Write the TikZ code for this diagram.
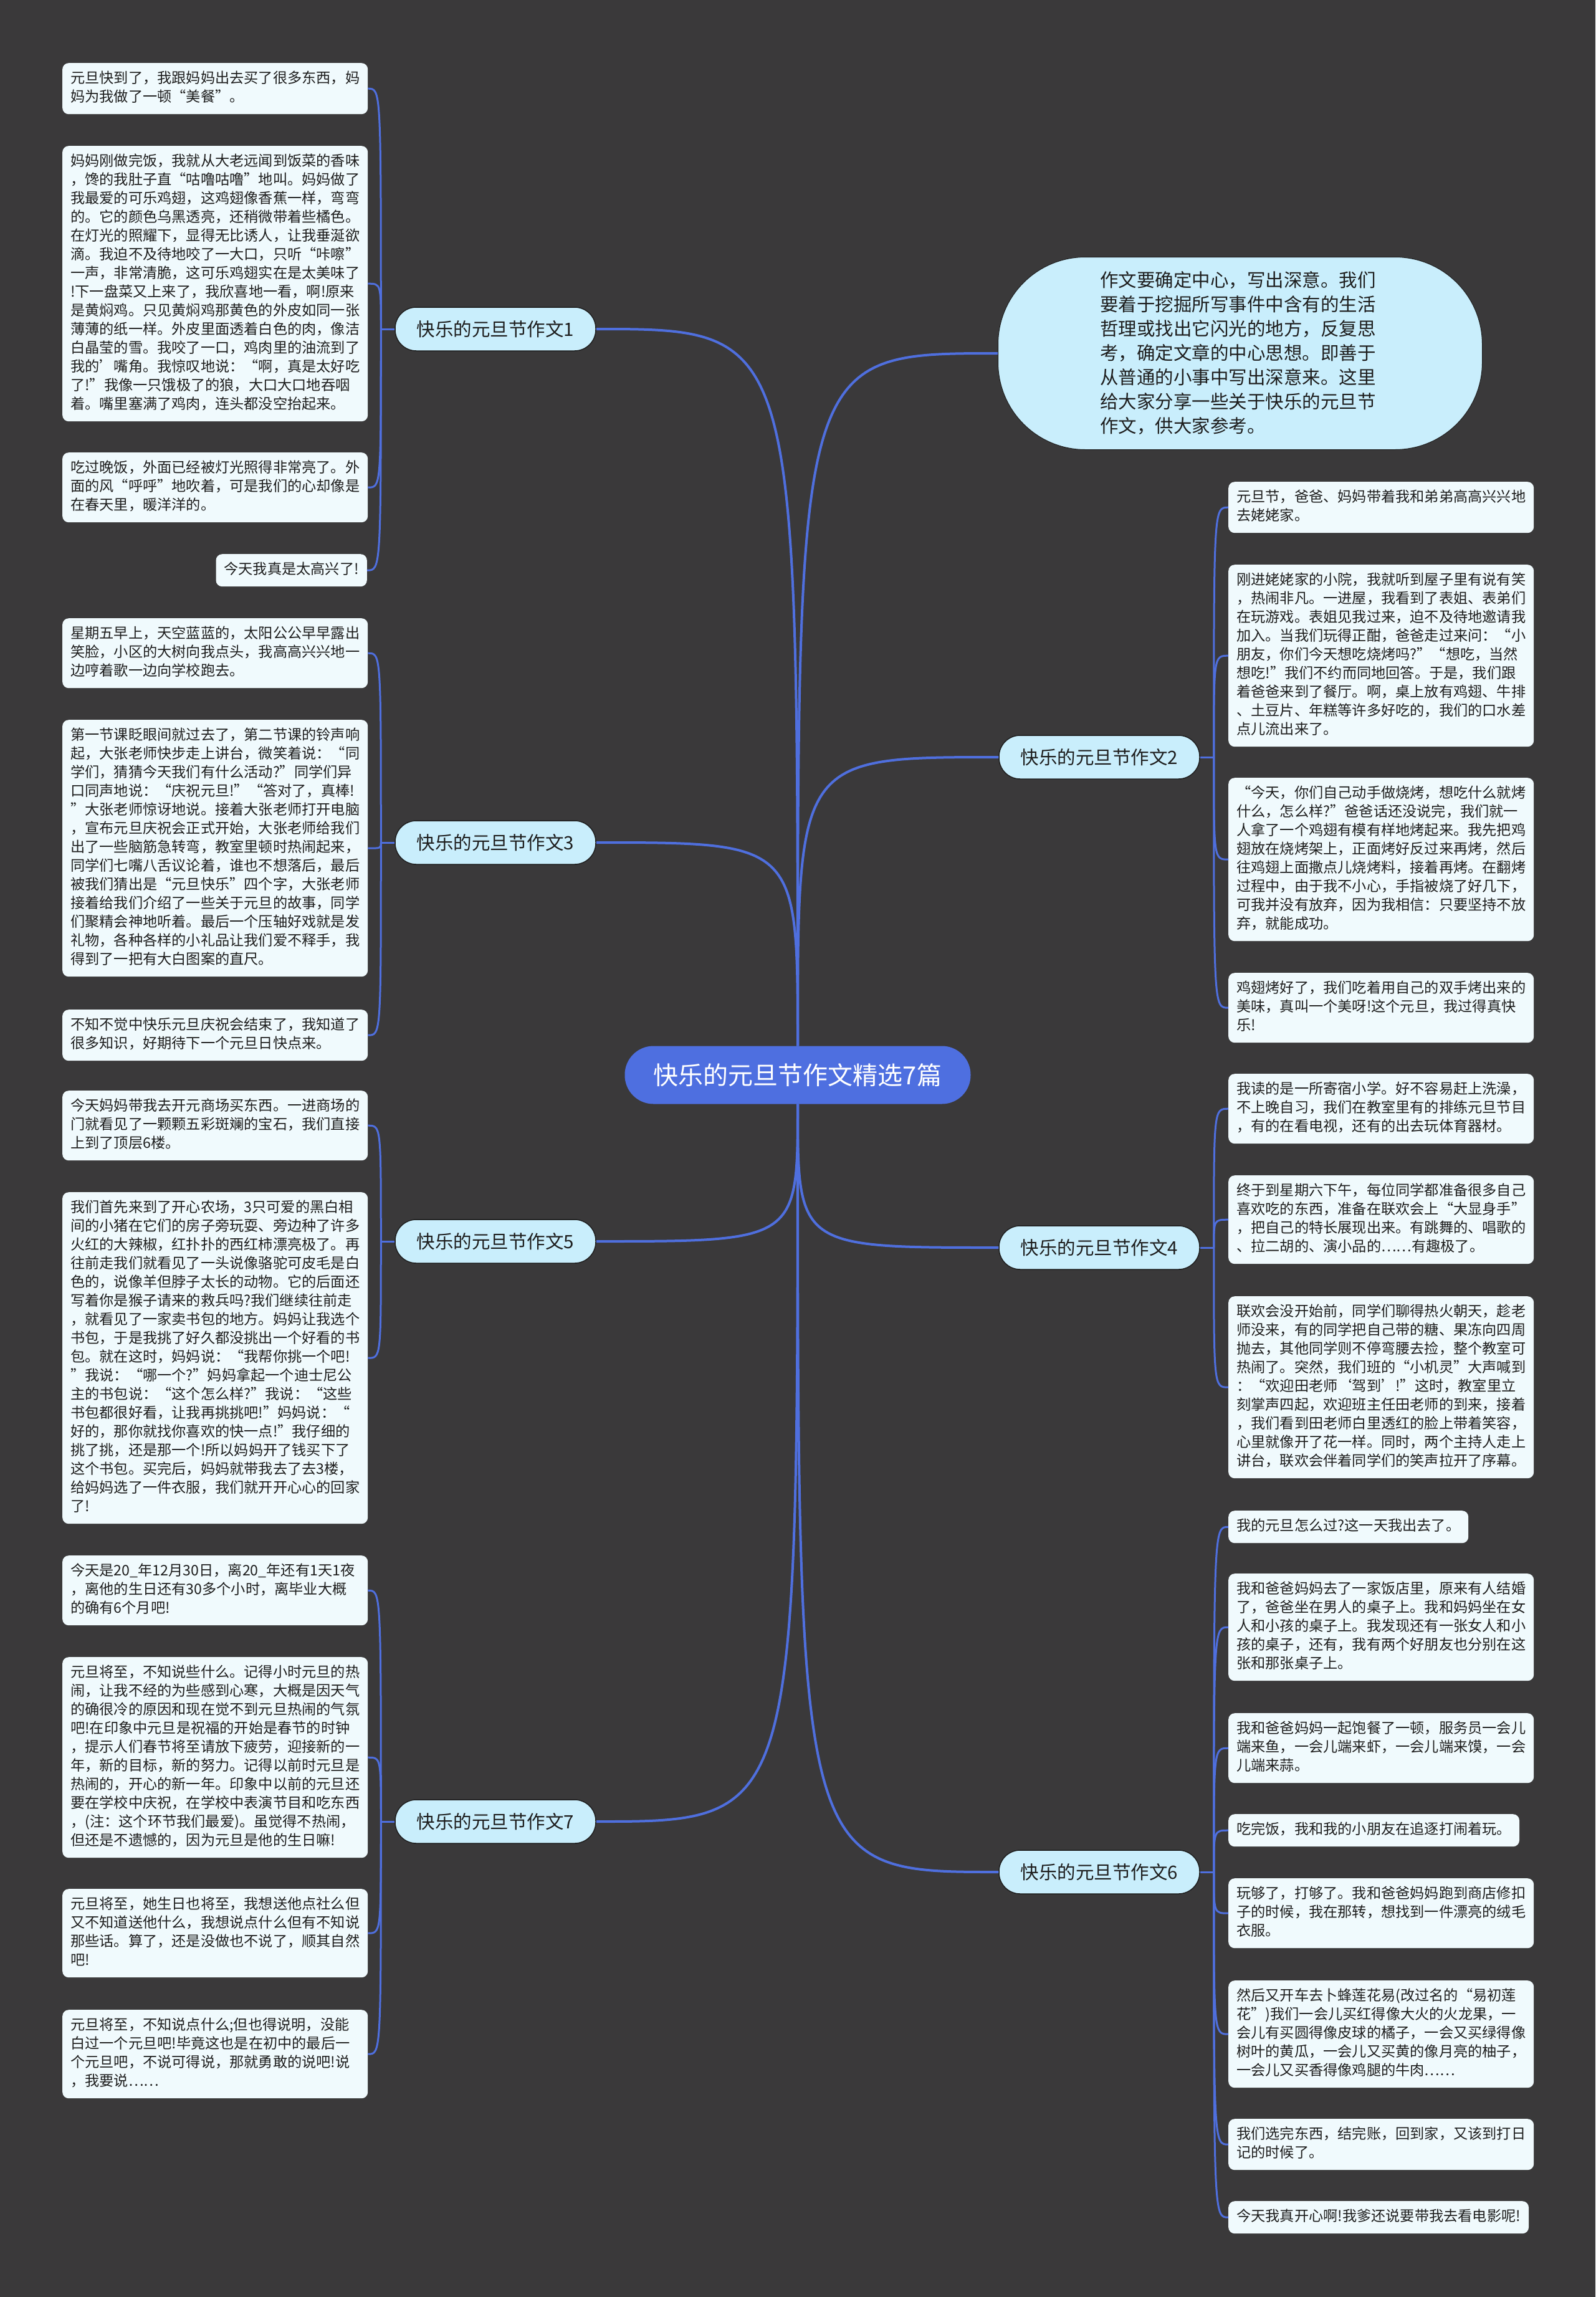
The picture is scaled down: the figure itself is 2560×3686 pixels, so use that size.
\documentclass[tikz,border=0pt]{standalone}
\usepackage{fontspec}
\setmainfont{Noto Sans CJK SC}
\definecolor{bgc}{HTML}{3A393A}
\definecolor{linec}{HTML}{4F6FDE}
\definecolor{centerc}{HTML}{4E6FE0}
\definecolor{branchc}{HTML}{C9EEFC}
\definecolor{leafc}{HTML}{F0FAFD}
\definecolor{textc}{HTML}{1E1E1E}
\begin{document}
\begin{tikzpicture}[x=1pt,y=-1pt,
  leafbase/.style={fill=leafc, rounded corners=10pt, inner xsep=13pt, inner ysep=11pt,
    align=left, text=textc, font=\fontsize{23.2pt}{30pt}\selectfont,
    execute at begin node=\strut, execute at end node=\strut},
  leaf/.style={leafbase, text width=464pt},
  branchbox/.style={fill=branchc, draw=textc, line width=1.5pt, rounded corners=34pt,
    minimum width=322pt, minimum height=70pt, inner sep=0pt, text=textc,
    font=\fontsize{29.5pt}{36pt}\selectfont},
  centerbox/.style={fill=centerc, rounded corners=46pt, minimum width=555pt,
    minimum height=93pt, inner sep=0pt, text=white, font=\fontsize{40pt}{48pt}\selectfont},
  bubblebox/.style={fill=branchc, draw=textc, line width=1pt, rounded corners=140pt,
    minimum width=777pt, minimum height=309pt, text width=450pt, align=left,
    text=textc, font=\fontsize{29.5pt}{39pt}\selectfont},
  mainline/.style={draw=linec, line width=4pt},
  leafline/.style={draw=linec, line width=3pt}
]
\useasboundingbox[fill=bgc] (0,0) rectangle (2560,3686);

% center and main branches
\node[centerbox] (C) at (1280,1725) {快乐的元旦节作文精选7篇};
\node[bubblebox] (BB) at (1990,567) {作文要确定中心，写出深意。我们\\要着于挖掘所写事件中含有的生活\\哲理或找出它闪光的地方，反复思\\考，确定文章的中心思想。即善于\\从普通的小事中写出深意来。这里\\给大家分享一些关于快乐的元旦节\\作文，供大家参考。};
\node[branchbox] (B1) at (795,528) {快乐的元旦节作文1};
\node[branchbox] (B3) at (795,1352) {快乐的元旦节作文3};
\node[branchbox] (B5) at (795,1992) {快乐的元旦节作文5};
\node[branchbox] (B7) at (795,2923) {快乐的元旦节作文7};
\node[branchbox] (B2) at (1764,1215) {快乐的元旦节作文2};
\node[branchbox] (B4) at (1764,2002) {快乐的元旦节作文4};
\node[branchbox] (B6) at (1764,3004) {快乐的元旦节作文6};

% group 1
\node[leaf, anchor=north west] (L1a) at (100,101) {元旦快到了，我跟妈妈出去买了很多东西，妈\\妈为我做了一顿“美餐”。};
\node[leaf, anchor=north west] (L1b) at (100,234) {妈妈刚做完饭，我就从大老远闻到饭菜的香味\\，馋的我肚子直“咕噜咕噜”地叫。妈妈做了\\我最爱的可乐鸡翅，这鸡翅像香蕉一样，弯弯\\的。它的颜色乌黑透亮，还稍微带着些橘色。\\在灯光的照耀下，显得无比诱人，让我垂涎欲\\滴。我迫不及待地咬了一大口，只听“咔嚓”\\一声，非常清脆，这可乐鸡翅实在是太美味了\\!下一盘菜又上来了，我欣喜地一看，啊!原来\\是黄焖鸡。只见黄焖鸡那黄色的外皮如同一张\\薄薄的纸一样。外皮里面透着白色的肉，像洁\\白晶莹的雪。我咬了一口，鸡肉里的油流到了\\我的'嘴角。我惊叹地说：“啊，真是太好吃\\了!”我像一只饿极了的狼，大口大口地吞咽\\着。嘴里塞满了鸡肉，连头都没空抬起来。};
\node[leaf, anchor=north west] (L1c) at (100,726) {吃过晚饭，外面已经被灯光照得非常亮了。外\\面的风“呼呼”地吹着，可是我们的心却像是\\在春天里，暖洋洋的。};
\node[leafbase, anchor=north east] (L1d) at (589,889) {今天我真是太高兴了!};

% group 3
\node[leaf, anchor=north west] (L3a) at (100,992) {星期五早上，天空蓝蓝的，太阳公公早早露出\\笑脸，小区的大树向我点头，我高高兴兴地一\\边哼着歌一边向学校跑去。};
\node[leaf, anchor=north west] (L3b) at (100,1155) {第一节课眨眼间就过去了，第二节课的铃声响\\起，大张老师快步走上讲台，微笑着说：“同\\学们，猜猜今天我们有什么活动?”同学们异\\口同声地说：“庆祝元旦!”“答对了，真棒!\\”大张老师惊讶地说。接着大张老师打开电脑\\，宣布元旦庆祝会正式开始，大张老师给我们\\出了一些脑筋急转弯，教室里顿时热闹起来，\\同学们七嘴八舌议论着，谁也不想落后，最后\\被我们猜出是“元旦快乐”四个字，大张老师\\接着给我们介绍了一些关于元旦的故事，同学\\们聚精会神地听着。最后一个压轴好戏就是发\\礼物，各种各样的小礼品让我们爱不释手，我\\得到了一把有大白图案的直尺。};
\node[leaf, anchor=north west] (L3c) at (100,1620) {不知不觉中快乐元旦庆祝会结束了，我知道了\\很多知识，好期待下一个元旦日快点来。};

% group 5
\node[leaf, anchor=north west] (L5a) at (100,1750) {今天妈妈带我去开元商场买东西。一进商场的\\门就看见了一颗颗五彩斑斓的宝石，我们直接\\上到了顶层6楼。};
\node[leaf, anchor=north west] (L5b) at (100,1913) {我们首先来到了开心农场，3只可爱的黑白相\\间的小猪在它们的房子旁玩耍、旁边种了许多\\火红的大辣椒，红扑扑的西红柿漂亮极了。再\\往前走我们就看见了一头说像骆驼可皮毛是白\\色的，说像羊但脖子太长的动物。它的后面还\\写着你是猴子请来的救兵吗?我们继续往前走\\，就看见了一家卖书包的地方。妈妈让我选个\\书包，于是我挑了好久都没挑出一个好看的书\\包。就在这时，妈妈说：“我帮你挑一个吧!\\”我说：“哪一个?”妈妈拿起一个迪士尼公\\主的书包说：“这个怎么样?”我说：“这些\\书包都很好看，让我再挑挑吧!”妈妈说：“\\好的，那你就找你喜欢的快一点!”我仔细的\\挑了挑，还是那一个!所以妈妈开了钱买下了\\这个书包。买完后，妈妈就带我去了去3楼，\\给妈妈选了一件衣服，我们就开开心心的回家\\了!};

% group 7
\node[leaf, anchor=north west] (L7a) at (100,2496) {今天是20\_年12月30日，离20\_年还有1天1夜\\，离他的生日还有30多个小时，离毕业大概\\的确有6个月吧!};
\node[leaf, anchor=north west] (L7b) at (100,2659) {元旦将至，不知说些什么。记得小时元旦的热\\闹，让我不经的为些感到心寒，大概是因天气\\的确很冷的原因和现在觉不到元旦热闹的气氛\\吧!在印象中元旦是祝福的开始是春节的时钟\\，提示人们春节将至请放下疲劳，迎接新的一\\年，新的目标，新的努力。记得以前时元旦是\\热闹的，开心的新一年。印象中以前的元旦还\\要在学校中庆祝，在学校中表演节目和吃东西\\，(注：这个环节我们最爱)。虽觉得不热闹，\\但还是不遗憾的，因为元旦是他的生日嘛!};
\node[leaf, anchor=north west] (L7c) at (100,3031) {元旦将至，她生日也将至，我想送他点社么但\\又不知道送他什么，我想说点什么但有不知说\\那些话。算了，还是没做也不说了，顺其自然\\吧!};
\node[leaf, anchor=north west] (L7d) at (100,3225) {元旦将至，不知说点什么;但也得说明，没能\\白过一个元旦吧!毕竟这也是在初中的最后一\\个元旦吧，不说可得说，那就勇敢的说吧!说\\，我要说……};

% group 2
\node[leaf, anchor=north west] (R2a) at (1971,773) {元旦节，爸爸、妈妈带着我和弟弟高高兴兴地\\去姥姥家。};
\node[leaf, anchor=north west] (R2b) at (1971,906) {刚进姥姥家的小院，我就听到屋子里有说有笑\\，热闹非凡。一进屋，我看到了表姐、表弟们\\在玩游戏。表姐见我过来，迫不及待地邀请我\\加入。当我们玩得正酣，爸爸走过来问：“小\\朋友，你们今天想吃烧烤吗?”“想吃，当然\\想吃!”我们不约而同地回答。于是，我们跟\\着爸爸来到了餐厅。啊，桌上放有鸡翅、牛排\\、土豆片、年糕等许多好吃的，我们的口水差\\点儿流出来了。};
\node[leaf, anchor=north west] (R2c) at (1971,1248) {“今天，你们自己动手做烧烤，想吃什么就烤\\什么，怎么样?”爸爸话还没说完，我们就一\\人拿了一个鸡翅有模有样地烤起来。我先把鸡\\翅放在烧烤架上，正面烤好反过来再烤，然后\\往鸡翅上面撒点儿烧烤料，接着再烤。在翻烤\\过程中，由于我不小心，手指被烧了好几下，\\可我并没有放弃，因为我相信：只要坚持不放\\弃，就能成功。};
\node[leaf, anchor=north west] (R2d) at (1971,1561) {鸡翅烤好了，我们吃着用自己的双手烤出来的\\美味，真叫一个美呀!这个元旦，我过得真快\\乐!};

% group 4
\node[leaf, anchor=north west] (R4a) at (1971,1723) {我读的是一所寄宿小学。好不容易赶上洗澡，\\不上晚自习，我们在教室里有的排练元旦节目\\，有的在看电视，还有的出去玩体育器材。};
\node[leaf, anchor=north west] (R4b) at (1971,1886) {终于到星期六下午，每位同学都准备很多自己\\喜欢吃的东西，准备在联欢会上“大显身手”\\，把自己的特长展现出来。有跳舞的、唱歌的\\、拉二胡的、演小品的……有趣极了。};
\node[leaf, anchor=north west] (R4c) at (1971,2080) {联欢会没开始前，同学们聊得热火朝天，趁老\\师没来，有的同学把自己带的糖、果冻向四周\\抛去，其他同学则不停弯腰去捡，整个教室可\\热闹了。突然，我们班的“小机灵”大声喊到\\：“欢迎田老师‘驾到’!”这时，教室里立\\刻掌声四起，欢迎班主任田老师的到来，接着\\，我们看到田老师白里透红的脸上带着笑容，\\心里就像开了花一样。同时，两个主持人走上\\讲台，联欢会伴着同学们的笑声拉开了序幕。};

% group 6
\node[leafbase, anchor=north west] (R6a) at (1971,2424) {我的元旦怎么过?这一天我出去了。};
\node[leaf, anchor=north west] (R6b) at (1971,2525) {我和爸爸妈妈去了一家饭店里，原来有人结婚\\了，爸爸坐在男人的桌子上。我和妈妈坐在女\\人和小孩的桌子上。我发现还有一张女人和小\\孩的桌子，还有，我有两个好朋友也分别在这\\张和那张桌子上。};
\node[leaf, anchor=north west] (R6c) at (1971,2749) {我和爸爸妈妈一起饱餐了一顿，服务员一会儿\\端来鱼，一会儿端来虾，一会儿端来馍，一会\\儿端来蒜。};
\node[leafbase, anchor=north west] (R6d) at (1971,2911) {吃完饭，我和我的小朋友在追逐打闹着玩。};
\node[leaf, anchor=north west] (R6e) at (1971,3014) {玩够了，打够了。我和爸爸妈妈跑到商店修扣\\子的时候，我在那转，想找到一件漂亮的绒毛\\衣服。};
\node[leaf, anchor=north west] (R6f) at (1971,3178) {然后又开车去卜蜂莲花易(改过名的“易初莲\\花”)我们一会儿买红得像大火的火龙果，一\\会儿有买圆得像皮球的橘子，一会又买绿得像\\树叶的黄瓜，一会儿又买黄的像月亮的柚子，\\一会儿又买香得像鸡腿的牛肉……};
\node[leaf, anchor=north west] (R6g) at (1971,3400) {我们选完东西，结完账，回到家，又该到打日\\记的时候了。};
\node[leafbase, anchor=north west] (R6h) at (1971,3532) {今天我真开心啊!我爹还说要带我去看电影呢!};

% main connectors
\foreach \b in {B1,B3}
  \draw[mainline] (C.north) .. controls (C.north |- \b.east) .. (\b.east);
\foreach \b in {B5,B7}
  \draw[mainline] (C.south) .. controls (C.south |- \b.east) .. (\b.east);
\foreach \b in {B2,BB}
  \draw[mainline] (C.north) .. controls (C.north |- \b.west) .. (\b.west);
\foreach \b in {B4,B6}
  \draw[mainline] (C.south) .. controls (C.south |- \b.west) .. (\b.west);

% junctions
\coordinate (j1) at ([xshift=-22pt]B1.west);
\coordinate (j3) at ([xshift=-22pt]B3.west);
\coordinate (j5) at ([xshift=-22pt]B5.west);
\coordinate (j7) at ([xshift=-22pt]B7.west);
\coordinate (j2) at ([xshift=22pt]B2.east);
\coordinate (j4) at ([xshift=22pt]B4.east);
\coordinate (j6) at ([xshift=22pt]B6.east);
\draw[leafline] (B1.west) -- (j1);
\draw[leafline] (B3.west) -- (j3);
\draw[leafline] (B5.west) -- (j5);
\draw[leafline] (B7.west) -- (j7);
\draw[leafline] (B2.east) -- (j2);
\draw[leafline] (B4.east) -- (j4);
\draw[leafline] (B6.east) -- (j6);

% leaf connectors
\foreach \j/\l in {j1/L1a,j1/L1b,j1/L1c,j1/L1d,j3/L3a,j3/L3b,j3/L3c,j5/L5a,j5/L5b,j7/L7a,j7/L7b,j7/L7c,j7/L7d}
  \draw[leafline] (\j) .. controls (\j |- \l.east) .. (\l.east);
\foreach \j/\l in {j2/R2a,j2/R2b,j2/R2c,j2/R2d,j4/R4a,j4/R4b,j4/R4c,j6/R6a,j6/R6b,j6/R6c,j6/R6d,j6/R6e,j6/R6f,j6/R6g,j6/R6h}
  \draw[leafline] (\j) .. controls (\j |- \l.west) .. (\l.west);
\end{tikzpicture}
\end{document}
